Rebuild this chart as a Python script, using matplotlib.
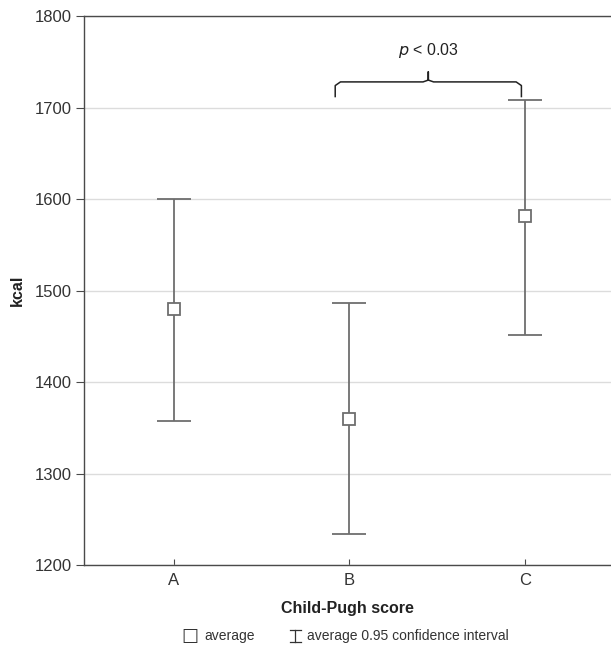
import matplotlib
matplotlib.use("Agg")
import matplotlib.pyplot as plt
from matplotlib.lines import Line2D
import numpy as np

plt.rcParams['font.family'] = ['Liberation Sans', 'DejaVu Sans']

# data
groups = ['A', 'B', 'C']
means = [1480, 1360, 1581]
lower = [1357, 1234, 1451]
upper = [1600, 1486, 1708]
yticks = [1200, 1300, 1400, 1500, 1600, 1700, 1800]

grey = '#6e6e6e'
fig = plt.figure(figsize=(6.11, 6.57), dpi=100)
ax = fig.add_axes([0.1375, 0.140, 0.8625, 0.8356])

x = np.arange(len(groups))
m = np.array(means)
err = [m - np.array(lower), np.array(upper) - m]
ax.errorbar(x, m, yerr=err, fmt='none', ecolor=grey, elinewidth=1.3,
            capsize=12.5, capthick=1.3, zorder=3)
ax.plot(x, m, 's', ms=8, mfc='white', mec=grey, mew=1.3, zorder=4)

ax.set_xlim(-0.51, 2.49)
ax.set_ylim(1200, 1800)
ax.set_yticks(yticks)
ax.set_xticks(x)
ax.set_xticklabels(groups)
ax.yaxis.grid(True, color='#dcdcdc', lw=1)
ax.set_axisbelow(True)

for s in ['left', 'bottom', 'top']:
    ax.spines[s].set_color('#4a4a4a')
    ax.spines[s].set_linewidth(1.0)
ax.spines['right'].set_visible(False)
ax.tick_params(axis='y', direction='out', length=6, color='#4a4a4a',
               labelsize=12, labelcolor='#333333', pad=3)
ax.tick_params(axis='x', direction='in', length=4, color='#4a4a4a',
               labelsize=12, labelcolor='#333333', pad=6)

ax.set_ylabel('kcal', fontsize=11.5, fontweight='bold', color='#222222', labelpad=7)
ax.set_xlabel('Child-Pugh score', fontsize=11.5, fontweight='bold', color='#222222', labelpad=9)

# curly brace between B and C
xl, xr, xm = 0.92, 1.98, 1.45
yb, yh, yp = 1712, 1728, 1739
r = 0.03
bx = [xl, xl, xl + r, xm - r, xm, xm, xm, xm + r, xr - r, xr, xr]
by = [yb, yh - 4, yh, yh, yh + 2, yp, yh + 2, yh, yh, yh - 4, yb]
ax.plot(bx, by, color='#222222', lw=1.1, clip_on=False, solid_joinstyle='round')
ax.text(xm, 1762, r'$p$ < 0.03', ha='center', va='center', fontsize=11.5, color='#222222')

# legend drawn at the bottom
fig.text(0.297, 0.032, '\u25a1', ha='left', va='center', fontsize=13,
         color='#333333', family='DejaVu Sans')
fig.text(0.335, 0.032, 'average', ha='left', va='center', fontsize=10, color='#333333')
ix, iy, iw, ih = 0.483, 0.032, 0.009, 0.009
for xs, ys in [([ix - iw, ix + iw], [iy + ih, iy + ih]),
               ([ix - iw, ix + iw], [iy - ih, iy - ih]),
               ([ix, ix], [iy - ih, iy + ih])]:
    fig.add_artist(Line2D(xs, ys, transform=fig.transFigure, color='#333333', lw=0.9))
fig.text(0.502, 0.032, 'average 0.95 confidence interval', ha='left', va='center',
         fontsize=10, color='#333333')

fig.savefig('out.png', dpi=100)
